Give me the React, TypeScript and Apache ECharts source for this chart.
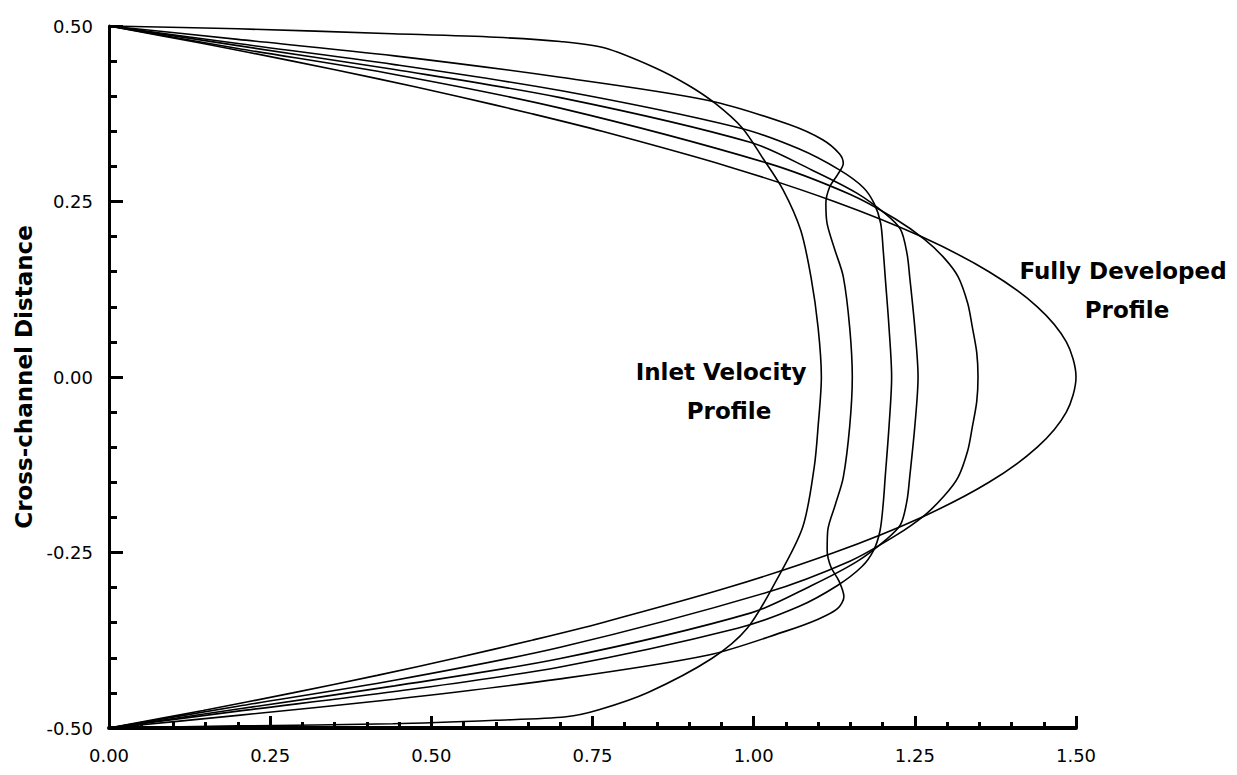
import React, { useEffect, useRef } from "react";
import * as echarts from "echarts";

// Velocity profiles across the channel: each entry is [velocity, cross-channel position]
const inletProfile: [number, number][] = [
  [0, 0.5], [0.2, 0.496], [0.44, 0.489], [0.6, 0.484], [0.7, 0.478], [0.768, 0.469],
  [0.846, 0.441], [0.898, 0.416], [0.94, 0.39], [0.982, 0.355], [1.014, 0.312],
  [1.046, 0.266], [1.073, 0.209], [1.089, 0.142], [1.1, 0.07], [1.105, 0],
  [1.1, -0.07], [1.094, -0.128], [1.076, -0.214], [1.035, -0.29], [0.99, -0.358],
  [0.935, -0.401], [0.837, -0.449], [0.76, -0.474], [0.709, -0.484], [0.6, -0.489],
  [0.44, -0.494], [0.2, -0.497], [0, -0.5],
];

const developingProfile1: [number, number][] = [
  [0, 0.5], [0.2, 0.481], [0.443, 0.4575], [0.7, 0.427], [0.93, 0.394], [1.054, 0.36],
  [1.107, 0.338], [1.133, 0.318], [1.139, 0.304], [1.13, 0.288], [1.118, 0.271],
  [1.112, 0.247], [1.114, 0.218], [1.126, 0.181], [1.139, 0.143], [1.149, 0.07],
  [1.153, 0], [1.149, -0.07], [1.139, -0.143], [1.127, -0.181], [1.115, -0.218],
  [1.114, -0.247], [1.12, -0.271], [1.132, -0.29], [1.14, -0.313], [1.13, -0.33],
  [1.1, -0.345], [1.05, -0.362], [0.93, -0.396], [0.7, -0.43], [0.443, -0.459],
  [0.2, -0.482], [0, -0.5],
];

const developingProfile2: [number, number][] = [
  [0, 0.5], [0.2, 0.475], [0.443, 0.445], [0.7, 0.408], [0.977, 0.355], [1.07, 0.325],
  [1.133, 0.295], [1.17, 0.27], [1.187, 0.247], [1.197, 0.219], [1.201, 0.18],
  [1.204, 0.143], [1.21, 0.07], [1.214, 0], [1.21, -0.07], [1.204, -0.143],
  [1.201, -0.18], [1.196, -0.219], [1.186, -0.247], [1.168, -0.27], [1.13, -0.297],
  [1.07, -0.327], [0.975, -0.358], [0.7, -0.413], [0.443, -0.448], [0.2, -0.476],
  [0, -0.5],
];

const developingProfile3: [number, number][] = [
  [0, 0.5], [0.2, 0.472], [0.443, 0.438], [0.7, 0.398], [0.996, 0.334], [1.09, 0.295],
  [1.16, 0.262], [1.205, 0.232], [1.228, 0.21], [1.238, 0.175], [1.242, 0.143],
  [1.25, 0.07], [1.255, 0], [1.25, -0.07], [1.242, -0.143], [1.238, -0.175],
  [1.228, -0.21], [1.205, -0.232], [1.16, -0.263], [1.09, -0.297], [0.996, -0.336],
  [0.7, -0.401], [0.443, -0.44], [0.2, -0.473], [0, -0.5],
];

const developingProfile4: [number, number][] = [
  [0, 0.5], [0.2, 0.468], [0.443, 0.431], [0.7, 0.383], [1.02, 0.305], [1.15, 0.26],
  [1.22, 0.225], [1.265, 0.196], [1.295, 0.17], [1.317, 0.143], [1.332, 0.105],
  [1.339, 0.072], [1.346, 0.035], [1.348, 0], [1.346, -0.035], [1.339, -0.072],
  [1.332, -0.105], [1.317, -0.143], [1.295, -0.17], [1.265, -0.197], [1.22, -0.226],
  [1.15, -0.262], [1.02, -0.307], [0.7, -0.385], [0.443, -0.432], [0.2, -0.469],
  [0, -0.5],
];

const fullyDevelopedProfile: [number, number][] = [
  [0, 0.5], [0.146, 0.475], [0.285, 0.45], [0.416, 0.425], [0.54, 0.4], [0.656, 0.375],
  [0.765, 0.35], [0.96, 0.3], [1.125, 0.25], [1.26, 0.2], [1.365, 0.15], [1.44, 0.1],
  [1.485, 0.05], [1.5, 0], [1.485, -0.05], [1.44, -0.1], [1.365, -0.15], [1.26, -0.2],
  [1.125, -0.25], [0.96, -0.3], [0.765, -0.35], [0.656, -0.375], [0.54, -0.4],
  [0.416, -0.425], [0.285, -0.45], [0.146, -0.475], [0, -0.5],
];

const profiles = [
  inletProfile,
  developingProfile1,
  developingProfile2,
  developingProfile3,
  developingProfile4,
  fullyDevelopedProfile,
];

const xTickLabels = ["0.00", "0.25", "0.50", "0.75", "1.00", "1.25", "1.50"];
const yTickLabels = ["-0.50", "-0.25", "0.00", "0.25", "0.50"];

const TICK_FONT = "DejaVu Sans";
const NOTE_FONT = "DejaVu Sans";

function note(text: string, x: number, y: number) {
  return {
    type: "text",
    x,
    y,
    style: {
      text,
      fill: "#000",
      fontFamily: NOTE_FONT,
      fontWeight: "bold",
      fontSize: 23,
      align: "center",
      verticalAlign: "middle",
    },
  };
}

export default function App() {
  const ref = useRef<HTMLDivElement>(null);

  useEffect(() => {
    if (!ref.current) return;
    const chart = echarts.init(ref.current, null, { renderer: "svg" });

    const tickLabelStyle = {
      color: "#000",
      fontFamily: TICK_FONT,
      fontSize: 18,
    };

    chart.setOption({
      animation: false,
      backgroundColor: "#fff",
      grid: { left: 109, top: 26, width: 967, height: 702, containLabel: false },
      xAxis: {
        type: "value",
        min: 0,
        max: 1.5,
        interval: 0.25,
        axisLine: { show: true, onZero: false, lineStyle: { color: "#000", width: 4 } },
        axisTick: { show: true, inside: true, length: 12, lineStyle: { color: "#000", width: 3 } },
        minorTick: { show: true, splitNumber: 5, length: 6, lineStyle: { color: "#000", width: 3 } },
        splitLine: { show: false },
        minorSplitLine: { show: false },
        axisLabel: {
          ...tickLabelStyle,
          margin: 18,
          formatter: (v: number) => xTickLabels[Math.round(v / 0.25)] ?? "",
        },
      },
      yAxis: {
        type: "value",
        min: -0.5,
        max: 0.5,
        interval: 0.25,
        name: "Cross-channel Distance",
        nameLocation: "middle",
        nameGap: 74,
        nameTextStyle: {
          color: "#000",
          fontFamily: NOTE_FONT,
          fontWeight: "bold",
          fontSize: 23,
        },
        axisLine: { show: true, onZero: false, lineStyle: { color: "#000", width: 3 } },
        axisTick: { show: true, inside: true, length: 14, lineStyle: { color: "#000", width: 3 } },
        minorTick: { show: true, splitNumber: 5, length: 8, lineStyle: { color: "#000", width: 3 } },
        splitLine: { show: false },
        minorSplitLine: { show: false },
        axisLabel: {
          ...tickLabelStyle,
          margin: 16,
          formatter: (v: number) => yTickLabels[Math.round((v + 0.5) / 0.25)] ?? "",
        },
      },
      series: profiles.map((data) => ({
        type: "line",
        data,
        symbol: "none",
        smooth: 0.3,
        clip: false,
        silent: true,
        lineStyle: { color: "#000", width: 1.6 },
      })),
      graphic: [
        note("Inlet Velocity", 721, 372),
        note("Profile", 729, 411),
        note("Fully Developed", 1123, 271),
        note("Profile", 1127, 310),
      ],
    });

    return () => chart.dispose();
  }, []);

  return (
    <div
      ref={ref}
      style={{ position: "fixed", left: 0, top: 0, width: 1237, height: 775, background: "#fff" }}
    />
  );
}
